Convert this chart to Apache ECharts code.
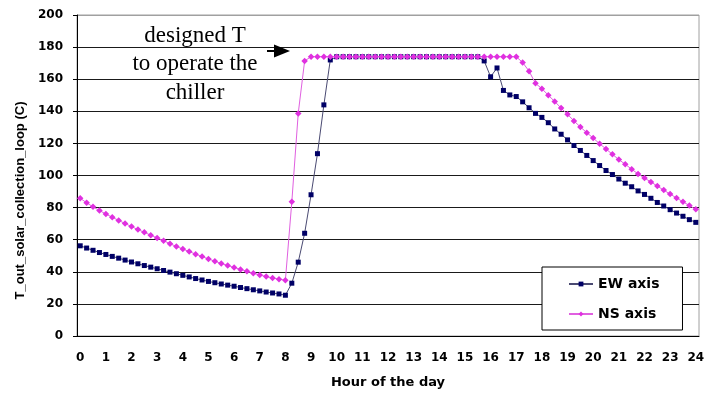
<!DOCTYPE html>
<html>
<head>
<meta charset="utf-8">
<script src="https://cdn.jsdelivr.net/npm/echarts@6/dist/echarts.min.js"></script>
<style>
  html, body { margin: 0; padding: 0; background: #ffffff; }
  #chart { width: 715px; height: 394px; }
</style>
</head>
<body>
<div id="chart"></div>
<script>
// Time of day in 15-minute steps (hours)
const hours = [
  0, 0.25, 0.5, 0.75, 1, 1.25, 1.5, 1.75, 2, 2.25, 2.5, 2.75,
  3, 3.25, 3.5, 3.75, 4, 4.25, 4.5, 4.75, 5, 5.25, 5.5, 5.75,
  6, 6.25, 6.5, 6.75, 7, 7.25, 7.5, 7.75, 8, 8.25, 8.5, 8.75,
  9, 9.25, 9.5, 9.75, 10, 10.25, 10.5, 10.75, 11, 11.25, 11.5, 11.75,
  12, 12.25, 12.5, 12.75, 13, 13.25, 13.5, 13.75, 14, 14.25, 14.5, 14.75,
  15, 15.25, 15.5, 15.75, 16, 16.25, 16.5, 16.75, 17, 17.25, 17.5, 17.75,
  18, 18.25, 18.5, 18.75, 19, 19.25, 19.5, 19.75, 20, 20.25, 20.5, 20.75,
  21, 21.25, 21.5, 21.75, 22, 22.25, 22.5, 22.75, 23, 23.25, 23.5, 23.75, 24
];

// Outlet temperature of the solar collection loop, east-west tracking axis (C)
const ewAxis = [
  56.2, 54.8, 53.4, 52.0, 50.8, 49.6, 48.5, 47.3, 46.1, 45.0, 43.9, 42.9,
  41.9, 40.8, 39.8, 38.8, 37.8, 36.8, 35.8, 34.9, 34.0, 33.2, 32.4, 31.7,
  31.0, 30.2, 29.5, 28.8, 28.1, 27.4, 26.8, 26.2, 25.4, 32.9, 46.0, 64.0,
  88.0, 113.6, 144.0, 172.0, 174, 174, 174, 174, 174, 174, 174, 174,
  174, 174, 174, 174, 174, 174, 174, 174, 174, 174, 174, 174,
  174, 174, 174, 171.4, 161.5, 167.0, 153.0, 150.2, 149.2, 145.9, 142.2, 138.7,
  136.2, 132.9, 129.0, 125.7, 122.2, 118.7, 115.6, 112.5, 109.3, 106.2, 103.1, 100.6,
  97.8, 95.2, 93.0, 90.4, 88.2, 85.8, 83.2, 81.0, 78.7, 76.6, 74.6, 72.5, 70.8
];

// Outlet temperature of the solar collection loop, north-south tracking axis (C)
const nsAxis = [
  85.8, 83.0, 80.5, 78.2, 76.0, 74.0, 72.0, 70.1, 68.2, 66.3, 64.6, 62.8,
  61.1, 59.4, 57.5, 55.8, 54.2, 52.6, 51.0, 49.5, 48.0, 46.6, 45.2, 43.9,
  42.7, 41.5, 40.3, 39.1, 38.0, 37.0, 36.1, 35.4, 34.8, 83.6, 138.7, 171.4,
  174, 174, 174, 174, 174, 174, 174, 174, 174, 174, 174, 174,
  174, 174, 174, 174, 174, 174, 174, 174, 174, 174, 174, 174,
  174, 174, 174, 174, 174, 174, 174, 174, 174, 170.4, 165.0, 157.4,
  154.1, 150.0, 146.1, 142.0, 138.1, 134.0, 130.2, 126.7, 123.3, 119.8, 116.5, 113.2,
  109.9, 107.0, 103.9, 101.0, 98.4, 96.0, 93.4, 90.9, 88.4, 86.0, 83.6, 81.3, 78.9
];

const seriesNames = ['EW axis', 'NS axis'];
const annotationLines = ['designed T', 'to operate the', 'chiller'];

const chart = echarts.init(document.getElementById('chart'));

const boldSans = 'DejaVu Sans';
const serifFont = '23px "Liberation Serif"';

chart.setOption({
  animation: false,
  backgroundColor: '#ffffff',
  grid: {
    left: 77, right: 16, top: 15, bottom: 55,
    show: true, borderColor: '#a0a0a0', borderWidth: 1, backgroundColor: '#ffffff'
  },
  xAxis: {
    type: 'category',
    data: hours.map(String),
    boundaryGap: true,
    name: 'Hour of the day',
    nameLocation: 'middle',
    nameGap: 40,
    nameTextStyle: { fontFamily: boldSans, fontWeight: 'bold', fontSize: 13, color: '#000' },
    axisLine: { lineStyle: { color: '#000', width: 1 } },
    axisTick: { interval: 3, alignWithLabel: true, length: 4, lineStyle: { color: '#000' } },
    axisLabel: { interval: 3, margin: 16, fontFamily: boldSans, fontWeight: 'bold', fontSize: 12, color: '#000' },
    splitLine: { show: false }
  },
  yAxis: {
    type: 'value',
    min: 0, max: 200, interval: 20,
    name: 'T_out_solar_collection_loop (C)',
    nameLocation: 'middle',
    nameGap: 49,
    nameTextStyle: { fontFamily: 'Liberation Sans', fontWeight: 'bold', fontSize: 13, color: '#000', padding: [0, 50, 0, 0] },
    axisLine: { show: true, lineStyle: { color: '#000', width: 1 } },
    axisTick: { show: true, length: 4, lineStyle: { color: '#000' } },
    axisLabel: { margin: 14, fontFamily: boldSans, fontWeight: 'bold', fontSize: 12, color: '#000' },
    splitLine: {
      show: true,
      lineStyle: { color: ['#000', '#1a1a1a', '#1a1a1a', '#1a1a1a', '#1a1a1a', '#1a1a1a', '#1a1a1a', '#1a1a1a', '#1a1a1a', '#1a1a1a', '#a0a0a0'], width: 1 }
    }
  },
  legend: {
    data: seriesNames,
    orient: 'vertical',
    left: 542, top: 267,
    padding: [10, 23, 9, 26],
    itemWidth: 24, itemHeight: 6, itemGap: 16,
    backgroundColor: '#ffffff',
    borderColor: '#000', borderWidth: 1, borderRadius: 0,
    textStyle: { fontFamily: boldSans, fontWeight: 'bold', fontSize: 14, color: '#000' }
  },
  series: [
    {
      name: seriesNames[0],
      type: 'line',
      data: ewAxis,
      showAllSymbol: true,
      symbol: 'rect', symbolSize: 5,
      lineStyle: { color: '#4a4a72', width: 1 },
      itemStyle: { color: '#000066' },
      z: 2
    },
    {
      name: seriesNames[1],
      type: 'line',
      data: nsAxis,
      showAllSymbol: true,
      symbol: 'diamond', symbolSize: 6.5,
      lineStyle: { color: '#e060e0', width: 1 },
      itemStyle: { color: '#e030e0' },
      z: 3
    }
  ],
  graphic: [
    {
      type: 'text', x: 195, y: 35.5, z: 10,
      style: { text: annotationLines[0], align: 'center', verticalAlign: 'middle', font: serifFont, fill: '#000' }
    },
    {
      type: 'text', x: 195, y: 63.5, z: 10,
      style: { text: annotationLines[1], align: 'center', verticalAlign: 'middle', font: serifFont, fill: '#000' }
    },
    {
      type: 'text', x: 195, y: 92.5, z: 10,
      style: { text: annotationLines[2], align: 'center', verticalAlign: 'middle', font: serifFont, fill: '#000' }
    },
    {
      type: 'line', z: 10,
      shape: { x1: 267, y1: 51, x2: 276, y2: 51 },
      style: { stroke: '#000', lineWidth: 2 }
    },
    {
      type: 'polygon', z: 10,
      shape: { points: [[274, 44.5], [290, 51], [274, 57.5]] },
      style: { fill: '#000' }
    }
  ]
});
</script>
</body>
</html>
